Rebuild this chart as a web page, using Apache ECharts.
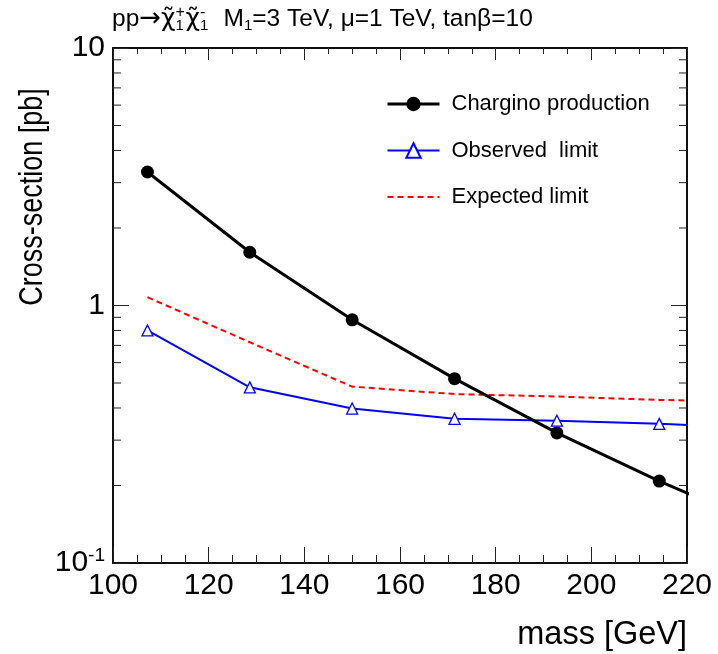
<!DOCTYPE html>
<html>
<head>
<meta charset="utf-8">
<script src="https://cdn.jsdelivr.net/npm/echarts@6/dist/echarts.min.js"></script>
<style>
html,body{margin:0;padding:0;background:#fff;}
#chart{width:718px;height:654px;}
</style>
</head>
<body>
<div id="chart"></div>
<script>
// ---- data ----
var masses    = [107.2, 128.6, 150.0, 171.4, 192.8, 214.2, 235.6];
var chargino  = [3.30, 1.61, 0.88, 0.52, 0.32, 0.208, 0.14];
var observed  = [0.80, 0.481, 0.398, 0.363, 0.357, 0.347, 0.336];
var expected  = [1.077, 0.72, 0.484, 0.453, 0.443, 0.43, 0.42];
var seriesNames = ['Chargino production', 'Observed  limit', 'Expected limit'];
var yMinorTicks = [0.2,0.3,0.4,0.5,0.6,0.7,0.8,0.9,2,3,4,5,6,7,8,9];
var xMin = 100, xMax = 220, xStep = 20;
var yMin = 0.1, yMax = 10;

var FONT = '"Liberation Sans", Arial, Helvetica, sans-serif';
var DJ = '"DejaVu Sans", sans-serif';

function pairs(xs, ys){ return xs.map(function(x,i){ return [x, ys[i]]; }); }

var chart = echarts.init(document.getElementById('chart'));

var tickAxisX = {
  type:'value', min:xMin, max:xMax, interval:xStep,
  axisLine:{show:true, lineStyle:{color:'#000', width:1.5}},
  axisTick:{show:true, inside:true, length:16, lineStyle:{color:'#222', width:1}},
  minorTick:{show:true, splitNumber:4, length:8, lineStyle:{color:'#222', width:1}},
  splitLine:{show:false}
};

var option = {
  backgroundColor:'#fff',
  animation:false,
  title:{
    left:112, top:5, padding:0,
    text:'{t|pp}{ar|→}{chi|χ̃}{sup|+}{sub|1}{chi|χ̃}{sup|-}{sub|1}{t|  M}{sub2|1}{t|=3 TeV, μ=1 TeV, tanβ=10}',
    textStyle:{
      fontFamily:FONT, fontSize:24.5, fontWeight:'normal', color:'#000',
      rich:{
        t:{fontSize:24.5, fontFamily:FONT, color:'#000'},
        ar:{fontSize:26, fontFamily:DJ, color:'#000'},
        chi:{fontSize:25, fontFamily:DJ, color:'#000'},
        sup:{fontSize:16, fontFamily:FONT, color:'#000', verticalAlign:'top', padding:[0,0,11,0], width:0.01},
        sub:{fontSize:15, fontFamily:FONT, color:'#000', verticalAlign:'bottom', padding:[13,0,0,0], width:10},
        sub2:{fontSize:15, fontFamily:FONT, color:'#000', verticalAlign:'bottom', padding:[13,0,0,0]}
      }
    }
  },
  grid:{left:113, right:31, top:48, bottom:91, show:true, borderColor:'#000', borderWidth:1.5, backgroundColor:'transparent'},
  legend:{
    orient:'vertical', left:386, top:93, padding:0,
    itemWidth:52, itemHeight:18, itemGap:24.5,
    data:[
      {name:seriesNames[0], lineStyle:{width:3}},
      {name:seriesNames[1]},
      {name:seriesNames[2], itemStyle:{opacity:0}}
    ],
    textStyle:{fontFamily:FONT, fontSize:22, color:'#000', padding:[0,0,0,7]}
  },
  xAxis:[
    Object.assign({}, tickAxisX, {
      position:'bottom',
      axisLabel:{show:true, fontFamily:FONT, fontSize:30, color:'#000', margin:8}
    }),
    Object.assign({}, tickAxisX, {
      position:'top',
      axisTick:{show:true, inside:true, length:12, lineStyle:{color:'#222', width:1}},
      minorTick:{show:true, splitNumber:4, length:6, lineStyle:{color:'#222', width:1}},
      axisLabel:{show:false}
    })
  ],
  yAxis:[
    {
      type:'log', logBase:10, min:yMin, max:yMax, position:'left',
      axisLine:{show:true, lineStyle:{color:'#000', width:1.5}},
      axisTick:{show:true, inside:true, length:16, lineStyle:{color:'#222', width:1}},
      splitLine:{show:false},
      axisLabel:{
        fontFamily:FONT, fontSize:30, color:'#000', margin:8,
        formatter:function(v){
          if (Math.abs(v-0.1)<1e-9) return '10{sup|-1}';
          if (Math.abs(v-1)<1e-9) return '1';
          if (Math.abs(v-10)<1e-9) return '10';
          return '';
        },
        rich:{sup:{fontSize:19, verticalAlign:'top', padding:[0,0,14,0], fontFamily:FONT}}
      }
    },
    {
      type:'log', logBase:10, min:yMin, max:yMax, position:'right',
      axisLine:{show:true, lineStyle:{color:'#000', width:1.5}},
      axisTick:{show:true, inside:true, length:16, lineStyle:{color:'#222', width:1}},
      splitLine:{show:false},
      axisLabel:{show:false}
    }
  ],
  graphic:[
    {
      type:'text', x:33, y:197, rotation:Math.PI/2, scaleY:1.22,
      style:{text:'Cross-section [pb]', fontFamily:FONT, fontSize:27, fill:'#000', align:'center', verticalAlign:'middle'}
    },
    {
      type:'text', x:687, y:635,
      style:{text:'mass [GeV]', fontFamily:FONT, fontSize:32.5, fill:'#000', align:'right', verticalAlign:'middle'}
    }
  ],
  series:[
    {
      name:seriesNames[0], type:'line', clip:true,
      data:pairs(masses, chargino),
      symbol:'circle', symbolSize:13,
      lineStyle:{color:'#000', width:3},
      itemStyle:{color:'#000'},
      z:5
    },
    {
      name:seriesNames[1], type:'line', clip:true,
      data:pairs(masses, observed),
      symbol:'triangle', symbolSize:11,
      lineStyle:{color:'#0000ff', width:2},
      itemStyle:{color:'#fff', borderColor:'#0000ff', borderWidth:1.3},
      z:4
    },
    {
      name:seriesNames[2], type:'line', clip:true,
      data:pairs(masses, expected),
      symbol:'none',
      lineStyle:{color:'#ff0000', width:2, type:[6,4]},
      itemStyle:{color:'#ff0000'},
      z:3
    },
    {
      name:'minor y ticks', type:'custom', clip:false, silent:true,
      data:yMinorTicks.map(function(v){ return [xMin, v]; }),
      renderItem:function(params, api){
        var v = api.value(1);
        var pl = api.coord([xMin, v]);
        var pr = api.coord([xMax, v]);
        return {
          type:'group',
          children:[
            {type:'line', shape:{x1:pl[0], y1:pl[1], x2:pl[0]+8, y2:pl[1]}, style:{stroke:'#222', lineWidth:1}},
            {type:'line', shape:{x1:pr[0], y1:pr[1], x2:pr[0]-8, y2:pr[1]}, style:{stroke:'#222', lineWidth:1}}
          ]
        };
      },
      z:2
    }
  ]
};
chart.setOption(option);
</script>
</body>
</html>
